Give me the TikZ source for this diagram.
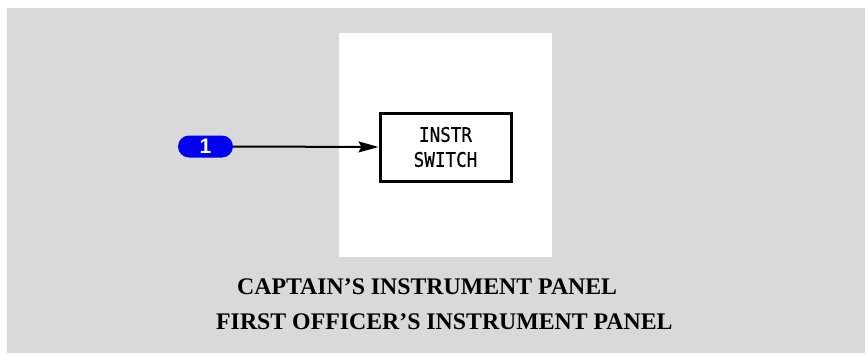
\documentclass[tikz,border=0pt]{standalone}
\usepackage{fontspec}
\setmainfont{Liberation Serif}
\newfontfamily\monofnt[FakeStretch=0.88,FakeBold=0.6]{DejaVu Sans Mono}
\newfontfamily\pillfnt{Liberation Sans}
\usetikzlibrary{arrows.meta,shapes.misc}
\definecolor{bggray}{RGB}{217,217,217}
\definecolor{pillblue}{RGB}{0,0,240}
\tikzset{
  switchbox/.style={draw=black,line width=3pt,fill=white,minimum width=131pt,minimum height=68pt,inner sep=0pt,align=center,font=\monofnt\fontsize{20}{25}\selectfont},
  pill/.style={rounded rectangle,fill=pillblue,minimum width=55pt,minimum height=22pt,inner sep=0pt,text=white,font=\pillfnt\bfseries\fontsize{21}{21}\selectfont},
  caption/.style={font=\bfseries\fontsize{23.8}{24}\selectfont,inner sep=0pt,anchor=west},
  conn/.style={line width=2pt,-{Stealth[length=20pt,width=11pt,inset=3pt]}}
}
\begin{document}
\begin{tikzpicture}[x=1pt,y=-1pt]
\useasboundingbox (0,0) rectangle (865,356);
\fill[bggray] (7,8) rectangle (865,353);
\fill[white] (339,33) rectangle (552,257);
\node[switchbox] (sw) at (445.5,147) {INSTR\\SWITCH};
\node[pill] (p1) at (205.5,146.5) {1};
\draw[conn] (p1.east) -- (sw.west);
\node[caption] (c1) at (237,287) {CAPTAIN’S INSTRUMENT PANEL};
\node[caption] (c2) at (216,322) {FIRST OFFICER’S INSTRUMENT PANEL};
\end{tikzpicture}
\end{document}
